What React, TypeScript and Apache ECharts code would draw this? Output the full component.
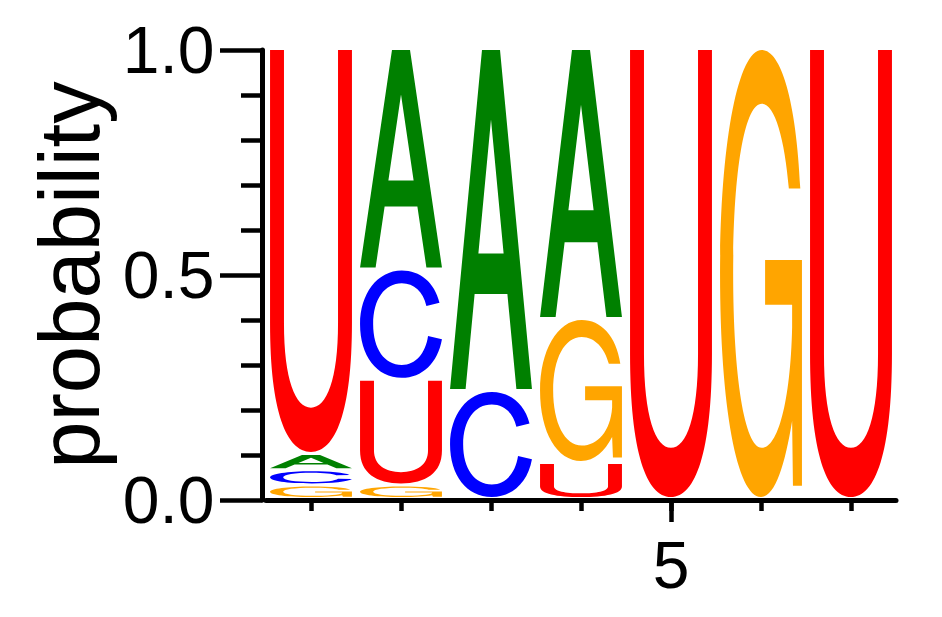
import React, { useEffect, useRef } from 'react';
import * as echarts from 'echarts';

// sequence positions and per-letter probabilities
const positions = ['1', '2', '3', '4', '5', '6', '7'];
const probA = [0.036, 0.49, 0.76, 0.6, 0, 0, 0];
const probC = [0.034, 0.245, 0.24, 0, 0, 0, 0];
const probG = [0.03, 0.03, 0, 0.32, 0, 1, 0];
const probU = [0.9, 0.235, 0, 0.08, 1, 0, 1];
const labelledPositions = ['5'];

const letterColors: Record<string, string> = {
    A: '#008000',
    C: '#0000ff',
    G: '#ffa500',
    U: '#ff0000',
};

// glyph outlines in a 100x100 box, stretched to each letter's rect
const GLYPHS: Record<string, string> = {
    A: 'M39,0 L61,0 L100,100 L81,100 L70,72 L30,72 L19,100 L0,100 Z M50,20.5 L34.6,60 L65.4,60 Z',
    C: 'M97,30 C91,11 73,0 51,0 C21,0 0,22 0,50 C0,79 20,100 51,100 C76,100 95,86 100,64 L83,61 C80,77 68,88 51,88 C30,88 16,73 16,50 C16,27 30,12 51,12 C66,12 77,20 81,33 Z',
    G: 'M98,31 C93,11 74,0 51,0 C21,0 0,22 0,50 C0,80 21,100 50,100 C67,100 79,93 88,83 L89,97.5 L100,97.5 L100,47 L55,47 L55,57 L88,57 L88,62 C86,79 70,89 51,89 C30,89 16,73 16,50 C16,27 30,12 51,12 C67,12 79,20 84,31 Z',
    U: 'M0,0 L17,0 L17,68 C17,82 31,89 50,89 C69,89 83,82 83,68 L83,0 L100,0 L100,68 C100,90 80,100 50,100 C20,100 0,90 0,68 Z',
};

const letterRows = [
    { name: 'A', values: probA },
    { name: 'C', values: probC },
    { name: 'G', values: probG },
    { name: 'U', values: probU },
];

const FONT = '"Liberation Sans", Arial, Helvetica, sans-serif';

const SequenceLogo: React.FC = () => {
    const chartRef = useRef<HTMLDivElement>(null);

    useEffect(() => {
        if (!chartRef.current) return;
        const chart = echarts.init(chartRef.current, null, { renderer: 'svg' });

        const columnTotals = positions.map((_, i) =>
            letterRows.reduce((s, l) => s + l.values[i], 0)
        );

        const option: any = {
            animation: false,
            grid: { left: 266, right: 46, top: 50, bottom: 117 },
            xAxis: [
                {
                    type: 'category',
                    position: 'bottom',
                    data: positions,
                    boundaryGap: true,
                    axisLine: { show: true, lineStyle: { color: '#000', width: 5 } },
                    axisTick: { show: true, alignWithLabel: true, length: 11, lineStyle: { color: '#000', width: 4.5 } },
                    axisLabel: { show: false },
                    splitLine: { show: false },
                },
                {
                    type: 'category',
                    position: 'bottom',
                    data: positions,
                    boundaryGap: true,
                    axisLine: { show: false },
                    axisTick: {
                        show: true,
                        alignWithLabel: true,
                        length: 22,
                        interval: (_i: number, v: string) => labelledPositions.includes(v),
                        lineStyle: { color: '#000', width: 4.5 },
                    },
                    axisLabel: {
                        show: true,
                        interval: (_i: number, v: string) => labelledPositions.includes(v),
                        fontSize: 66,
                        fontFamily: FONT,
                        color: '#000',
                        margin: 32,
                    },
                    splitLine: { show: false },
                },
            ],
            yAxis: {
                type: 'value',
                min: 0,
                max: 1,
                interval: 0.5,
                offset: 3.5,
                name: 'probability',
                nameLocation: 'middle',
                nameGap: 149,
                nameTextStyle: { fontSize: 85, fontFamily: FONT, color: '#000' },
                axisLine: { show: true, onZero: false, lineStyle: { color: '#000', width: 5 } },
                axisTick: { show: true, length: 42.5, lineStyle: { color: '#000', width: 4.5 } },
                minorTick: { show: true, splitNumber: 5, length: 21.5, lineStyle: { color: '#000', width: 4.5 } },
                axisLabel: {
                    formatter: (v: number) => v.toFixed(1),
                    fontSize: 66,
                    fontFamily: FONT,
                    color: '#000',
                    margin: 48,
                },
                splitLine: { show: false },
                minorSplitLine: { show: false },
            },
            series: [
                {
                    type: 'custom',
                    xAxisIndex: 0,
                    encode: { x: 0, y: 1 },
                    data: positions.map((_, i) => [i, columnTotals[i]]),
                    renderItem: (_params: any, api: any) => {
                        const i = api.value(0);
                        const stack = letterRows
                            .map(l => ({ name: l.name, p: l.values[i] }))
                            .filter(l => l.p > 0)
                            .sort((a, b) => a.p - b.p);
                        const bandWidth = api.size([1, 0])[0];
                        const cx = api.coord([i, 0])[0];
                        const w = bandWidth * 0.91;
                        let cum = 0;
                        const children = stack.map(l => {
                            const yBottom = api.coord([i, cum])[1];
                            cum += l.p;
                            const yTop = api.coord([i, cum])[1];
                            return {
                                type: 'path',
                                shape: {
                                    pathData: GLYPHS[l.name],
                                    x: cx - w / 2,
                                    y: yTop,
                                    width: w,
                                    height: Math.max(yBottom - yTop - 3, 0.5),
                                    layout: 'cover',
                                },
                                style: { fill: letterColors[l.name] },
                            };
                        });
                        return { type: 'group', children };
                    },
                },
            ],
        };

        chart.setOption(option);

        return () => {
            chart.dispose();
        };
    }, []);

    return (
        <div
            ref={chartRef}
            style={{ position: 'absolute', left: 0, top: 0, width: 942, height: 617, background: '#fff' }}
        />
    );
};

export default function App() {
    return <SequenceLogo />;
}
